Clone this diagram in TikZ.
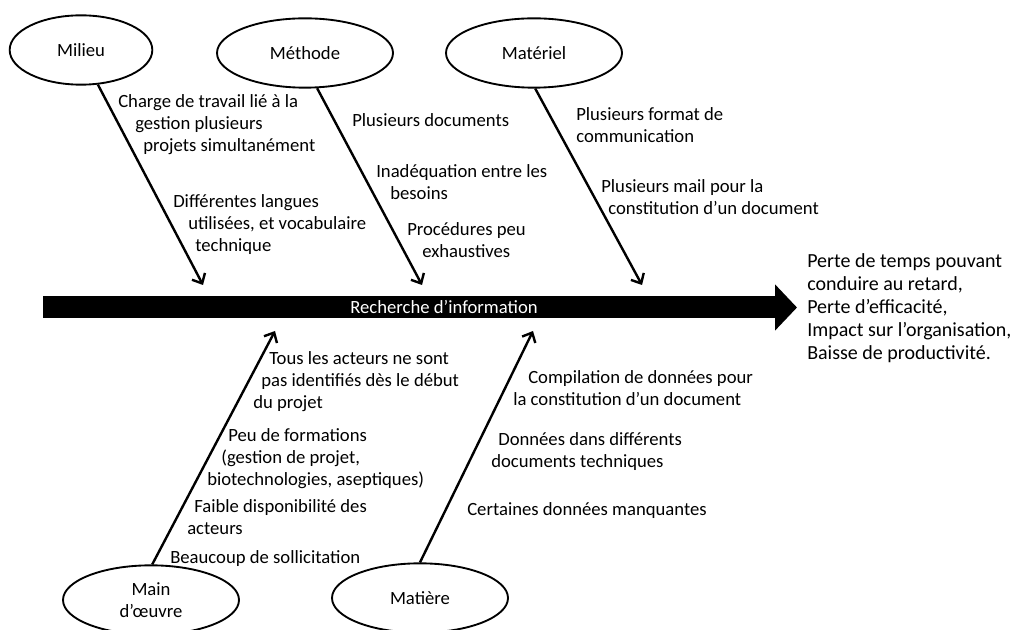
\documentclass[tikz,border=0pt]{standalone}
\usepackage{fontspec}
\setmainfont{Carlito}
\usetikzlibrary{arrows.meta,shapes.geometric}

\begin{document}
\begin{tikzpicture}[x=0.75pt,y=-0.75pt,font=\fontsize{14}{16.5}\selectfont,
    cause/.style={ellipse,draw,line width=1.4pt,inner sep=0pt,minimum width=132pt,minimum height=52pt,align=center},
    bone/.style={line width=1.8pt,-{Straight Barb[length=6pt,width=11pt]}},
    note/.style={anchor=north west,inner sep=0pt,align=left,execute at begin node=\strut},
    spine/.style={line width=16.5pt,-{Triangle[length=16.5pt,width=33.75pt]}}]
    \useasboundingbox (0,0) rectangle (1017,630);

    \node[cause,minimum width=107pt] (milieu) at (81,50) {Milieu};
    \node[cause] (methode) at (305,53) {Méthode};
    \node[cause] (materiel) at (534,53) {Matériel};
    \node[cause] (main) at (151,600) {Main\\d’œuvre};
    \node[cause] (matiere) at (420,598) {Matière};

    \coordinate (tail) at (43,307.5);
    \coordinate (head) at (797,307.5);
    \draw[spine] (tail) -- (head);
    \node[text=white] (probleme) at (444,307) {Recherche d’information};

    \coordinate (tmilieu) at (203,285);
    \coordinate (tmethode) at (422,285);
    \coordinate (tmateriel) at (642,285);
    \coordinate (tmain) at (275,331);
    \coordinate (tmatiere) at (533,331);
    \foreach \c/\a in {milieu/-64,methode/-71,materiel/-88,main/88,matiere/90}
        \draw[bone] (\c.\a) -- (t\c);

    \node[note] (milieuA) at (118,94) {Charge de travail lié à la\\\hspace*{12.75pt}gestion plusieurs\\\hspace*{18.75pt}projets simultanément};
    \node[note] (milieuB) at (173,194) {Différentes langues\\\hspace*{11.25pt}utilisées, et vocabulaire\\\hspace*{16.5pt}technique};
    \node[note] (methodeA) at (352,111) {Plusieurs documents};
    \node[note] (methodeB) at (376,164) {Inadéquation entre les\\\hspace*{10.5pt}besoins};
    \node[note] (methodeC) at (407,222) {Procédures peu\\\hspace*{11.25pt}exhaustives};
    \node[note] (materielA) at (576,107) {Plusieurs format de\\communication};
    \node[note] (materielB) at (601,179) {Plusieurs mail pour la\\\hspace*{5.25pt}constitution d’un document};
    \node[note] (mainA) at (253,351) {\hspace*{12pt}Tous les acteurs ne sont\\\hspace*{6pt}pas identifiés dès le début\\du projet};
    \node[note] (mainB) at (207,428) {\hspace*{15.75pt}Peu de formations\\\hspace*{10.5pt}(gestion de projet,\\biotechnologies, aseptiques)};
    \node[note] (mainC) at (187,499) {\hspace*{5.25pt}Faible disponibilité des\\acteurs};
    \node[note] (mainD) at (170,548) {Beaucoup de sollicitation};
    \node[note] (matiereA) at (513,370) {\hspace*{11.25pt}Compilation de données pour\\la constitution d’un document};
    \node[note] (matiereB) at (491,432) {\hspace*{5.25pt}Données dans différents\\documents techniques};
    \node[note] (matiereC) at (467,500) {Certaines données manquantes};
    \node[note,font=\fontsize{15}{17.25}\selectfont] (consequences) at (807,253) {Perte de temps pouvant\\conduire au retard,\\Perte d’efficacité,\\Impact sur l’organisation,\\Baisse de productivité.};
\end{tikzpicture}
\end{document}
